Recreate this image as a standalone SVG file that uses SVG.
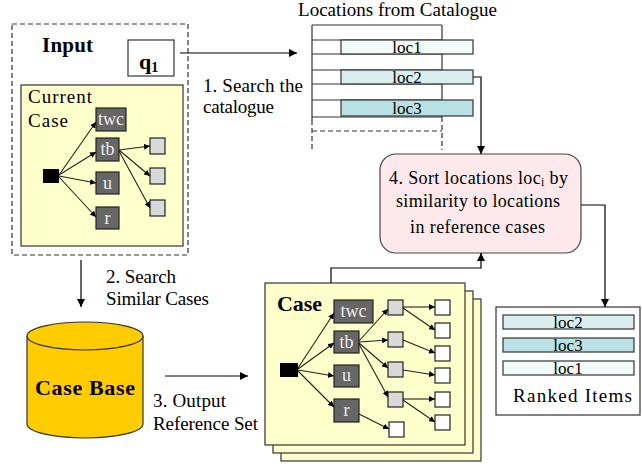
<svg xmlns="http://www.w3.org/2000/svg" width="642" height="466" viewBox="0 0 642 466" font-family="Liberation Serif, DejaVu Serif, serif">
<defs>
<marker id="ah" viewBox="0 0 10 10" refX="10" refY="5" markerWidth="8" markerHeight="8" markerUnits="userSpaceOnUse" orient="auto"><path d="M0,0 L10,5 L0,10 z" fill="#000"/></marker>
<marker id="as" viewBox="0 0 10 10" refX="10" refY="5" markerWidth="6" markerHeight="6" markerUnits="userSpaceOnUse" orient="auto"><path d="M0,0 L10,5 L0,10 z" fill="#000"/></marker>
<style>
text{font-family:'Liberation Serif','DejaVu Serif',serif;fill:#000}
.t{font-size:19px}
.s{font-size:18px}
.b{font-weight:bold}
.w{fill:#eeeeee;font-size:18px;text-anchor:middle}
.lc{font-size:17px;text-anchor:middle}
.card{fill:#ffffcc;stroke:#333;stroke-width:1.2}
.dk{fill:#666;stroke:#222;stroke-width:1.2}
.gr{fill:#d9d9d9;stroke:#222;stroke-width:1.2}
.wh{fill:#fff;stroke:#222;stroke-width:1.2}
.blk{fill:#000}
.ln{fill:none;stroke:#000;stroke-width:1.2}
.tr{fill:none;stroke:#222;stroke-width:1.1;marker-end:url(#as)}
.c1{fill:#f2fafa;stroke:#333;stroke-width:1.2}
.c2{fill:#daeef0;stroke:#333;stroke-width:1.2}
.c3{fill:#b9e1e4;stroke:#333;stroke-width:1.2}
</style>
</defs>

<g id="input">
<rect x="12" y="24" width="176" height="231" fill="#fff" stroke="#333" stroke-width="1.2" stroke-dasharray="5,3"/>
<text x="42" y="52" class="b" font-size="21" textLength="51">Input</text>
</g>
<g id="q1">
<rect x="128" y="40" width="46" height="36" fill="#fff" stroke="#333" stroke-width="1.2"/>
<text x="139" y="69" class="b" font-size="22">q<tspan font-size="14" dy="3">1</tspan></text>
</g>

<g id="current-case">
<rect x="21" y="85" width="162" height="161" class="card"/>
<text x="28" y="103" class="t" textLength="64">Current</text>
<text x="28" y="127" class="t" textLength="40">Case</text>
<rect x="43" y="169" width="16" height="14" class="blk"/>
<rect x="96" y="108" width="30" height="23" class="dk"/><text x="111" y="125" class="w">twc</text>
<rect x="96" y="138" width="23" height="23" class="dk"/><text x="107.5" y="155" class="w">tb</text>
<rect x="96" y="172" width="23" height="22" class="dk"/><text x="107.5" y="189" class="w">u</text>
<rect x="96" y="207" width="23" height="22" class="dk"/><text x="107.5" y="224" class="w">r</text>
<rect x="150" y="138" width="15" height="16" class="gr"/>
<rect x="150" y="168" width="15" height="16" class="gr"/>
<rect x="150" y="200" width="15" height="16" class="gr"/>
<path class="tr" d="M59,175 L96,122"/>
<path class="tr" d="M59,175 L96,152"/>
<path class="tr" d="M59,176 L96,183"/>
<path class="tr" d="M59,177 L96,217"/>
<path class="tr" d="M119,150 L150,146"/>
<path class="tr" d="M119,150 L150,176"/>
<path class="tr" d="M119,151 L150,208"/>
</g>

<g id="catalogue">
<text x="298" y="16" class="t" textLength="199">Locations from Catalogue</text>
<g fill="none" stroke="#333" stroke-width="1.2">
<path d="M312,25 H442 M312,40 H442 M312,54 H442 M312,70 H442 M312,84 H442 M312,100 H442 M312,117 H442 M312,25 V120 M442,25 V117"/>
<path d="M312,131 H442 M312,120 V150 M442,117 V150" stroke-dasharray="5,3"/>
</g>
<rect x="341" y="40" width="132" height="14" class="c1"/><text x="407" y="53" class="lc">loc1</text>
<rect x="341" y="70" width="132" height="14" class="c2"/><text x="407" y="83" class="lc">loc2</text>
<rect x="341" y="100" width="132" height="16" class="c3"/><text x="407" y="114" class="lc">loc3</text>
</g>

<g id="sort">
<rect x="380" y="154" width="201" height="99" rx="16" fill="#fde9ec" stroke="#444" stroke-width="1.2"/>
<text x="389" y="184" class="s" textLength="179">4. Sort locations loc<tspan font-size="12" dy="2">i</tspan><tspan dy="-2"> by</tspan></text>
<text x="396" y="207" class="s" textLength="164">similarity to locations</text>
<text x="410" y="233" class="s" textLength="135">in reference cases</text>
</g>

<g id="ranked">
<rect x="496" y="307" width="144" height="108" fill="#fff" stroke="#333" stroke-width="1.2"/>
<rect x="503" y="315" width="131" height="14" class="c2"/><text x="568" y="328" class="lc">loc2</text>
<rect x="503" y="338" width="131" height="14" class="c3"/><text x="568" y="351" class="lc">loc3</text>
<rect x="503" y="361" width="131" height="14" class="c1"/><text x="568" y="374" class="lc">loc1</text>
<text x="513" y="402" class="t" textLength="119">Ranked Items</text>
</g>

<g id="case-base">
<path d="M27,336 V424 A58,14 0 0 0 143,424 V336" fill="#ffcc00" stroke="#333" stroke-width="1.2"/>
<ellipse cx="85" cy="336" rx="58" ry="14" fill="#ffcc00" stroke="#333" stroke-width="1.2"/>
<text x="35" y="395" class="b" font-size="22" textLength="100">Case Base</text>
</g>

<g id="reference-cases">
<rect x="281" y="299" width="200" height="162" class="card"/>
<rect x="273" y="291" width="200" height="162" class="card"/>
<rect x="265" y="283" width="200" height="162" class="card"/>
<text x="277" y="311" class="b" font-size="22" textLength="45">Case</text>
<rect x="280" y="363" width="18" height="14" class="blk"/>
<rect x="334" y="300" width="39" height="23" class="dk"/><text x="353.5" y="317" class="w">twc</text>
<rect x="334" y="331" width="25" height="22" class="dk"/><text x="346.5" y="348" class="w">tb</text>
<rect x="334" y="365" width="25" height="22" class="dk"/><text x="346.5" y="381" class="w">u</text>
<rect x="334" y="399" width="25" height="23" class="dk"/><text x="346.5" y="416" class="w">r</text>
<rect x="388" y="300" width="15" height="15" class="gr"/>
<rect x="388" y="332" width="15" height="15" class="gr"/>
<rect x="388" y="362" width="15" height="15" class="gr"/>
<rect x="388" y="392" width="15" height="15" class="gr"/>
<rect x="435" y="300" width="15" height="15" class="wh"/>
<rect x="435" y="323" width="15" height="15" class="wh"/>
<rect x="435" y="346" width="15" height="15" class="wh"/>
<rect x="435" y="368" width="15" height="15" class="wh"/>
<rect x="435" y="392" width="15" height="15" class="wh"/>
<rect x="435" y="415" width="15" height="15" class="wh"/>
<rect x="389" y="422" width="15" height="15" class="wh"/>
<path class="tr" d="M298,368 L334,313"/>
<path class="tr" d="M298,369 L334,343"/>
<path class="tr" d="M298,370 L334,376"/>
<path class="tr" d="M298,371 L334,407"/>
<path class="tr" d="M359,341 L388,309"/>
<path class="tr" d="M359,342 L388,340"/>
<path class="tr" d="M359,343 L388,368"/>
<path class="tr" d="M359,344 L388,397"/>
<path class="tr" d="M403,307 L435,307"/>
<path class="tr" d="M403,308 L435,330"/>
<path class="tr" d="M403,340 L435,353"/>
<path class="tr" d="M403,370 L435,375"/>
<path class="tr" d="M403,399 L435,399"/>
<path class="tr" d="M403,400 L435,422"/>
<path class="tr" d="M359,414 L389,429"/>
</g>

<g id="connectors">
<path class="ln" d="M180,53 H297" marker-end="url(#ah)"/>
<path class="ln" d="M473,77 H481 V154" marker-end="url(#ah)"/>
<path class="ln" d="M331,283 V268 H481 V253" marker-end="url(#ah)"/>
<path class="ln" d="M581,205 H605 V307" marker-end="url(#ah)"/>
<path class="ln" d="M81,260 V307" marker-end="url(#ah)"/>
<path class="ln" d="M165,376 H248" marker-end="url(#ah)"/>
</g>

<g id="labels">
<text x="203" y="92" class="t" textLength="100">1. Search the</text>
<text x="203" y="113" class="t" textLength="71">catalogue</text>
<text x="106" y="283" class="t" textLength="70">2. Search</text>
<text x="106" y="305" class="t" textLength="103">Similar Cases</text>
<text x="153" y="407" class="t" textLength="73">3. Output</text>
<text x="153" y="430" class="t" textLength="105">Reference Set</text>
</g>
</svg>
